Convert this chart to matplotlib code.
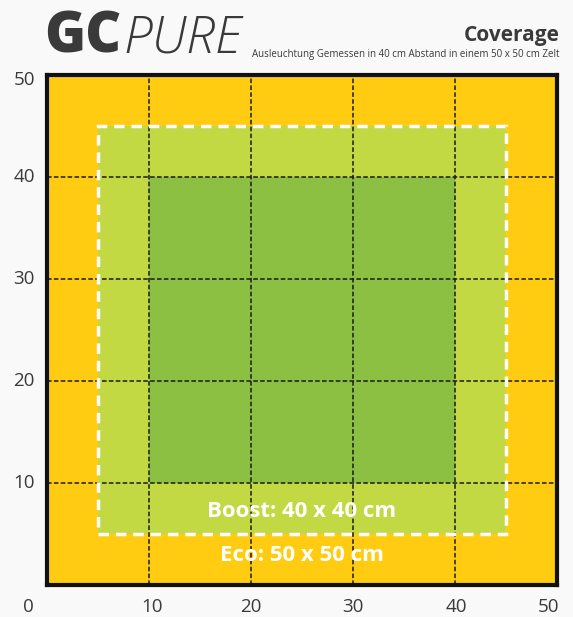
import matplotlib
matplotlib.use("Agg")
import matplotlib.pyplot as plt
from matplotlib.patches import Rectangle

# ---- data ----
zone_names = ["Eco", "Boost", "Core"]
zone_lo = [0, 5, 10]
zone_hi = [50, 45, 40]
zone_colors = ["#FFCC11", "#C2D944", "#8BC043"]
boost_box = (5, 45)
grid_ticks = [10, 20, 30, 40]
x_tick_labels = ["0", "10", "20", "30", "40", "50"]
y_tick_labels = ["10", "20", "30", "40", "50"]
label_boost = "Boost: 40 x 40 cm"
label_eco = "Eco: 50 x 50 cm"
title = "Coverage"
subtitle = "Ausleuchtung Gemessen in 40 cm Abstand in einem 50 x 50 cm Zelt"

plt.rcParams['font.family'] = ['Open Sans', 'DejaVu Sans']
BG = "#F9F9F9"
DARK = "#3A3A3A"

fig = plt.figure(figsize=(5.73, 6.17), dpi=100, facecolor=BG)
ax = fig.add_axes([47/573, 32/617, 510/573, 510/617])
ax.set_xlim(0, 50)
ax.set_ylim(0, 50)

for lo, hi, c in zip(zone_lo, zone_hi, zone_colors):
    ax.add_patch(Rectangle((lo, lo), hi - lo, hi - lo, facecolor=c, edgecolor='none', zorder=1))

for t in grid_ticks:
    ax.axvline(t, color='#1a1a1a', lw=1.1, ls=(0, (3, 1.5)), zorder=2)
    ax.axhline(t, color='#1a1a1a', lw=1.1, ls=(0, (3, 1.5)), zorder=2)

b0, b1 = boost_box
ax.add_patch(Rectangle((b0, b0), b1 - b0, b1 - b0, facecolor='none', edgecolor='white',
                       lw=2.5, ls=(0, (3, 2)), zorder=3))

ax.text(25, 7.2, label_boost, color='white', fontsize=16, fontweight='bold',
        ha='center', va='center', zorder=4)
ax.text(25, 2.9, label_eco, color='white', fontsize=16, fontweight='bold',
        ha='center', va='center', zorder=4)

ax.set_xticks([])
ax.set_yticks([])
for s in ax.spines.values():
    s.set_linewidth(3)
    s.set_color('#111111')
    s.set_zorder(5)

# tick labels
xpos = [-1.8, 10.3, 20, 30, 40.1, 49.2]
for xp, lab in zip(xpos, x_tick_labels):
    ax.text(xp, -2.2, lab, ha='center', va='center', fontsize=13.5, color=DARK, clip_on=False)
ypos = [10, 20, 30, 40, 49.5]
for yp, lab in zip(ypos, y_tick_labels):
    ax.text(-1.2, yp, lab, ha='right', va='center', fontsize=13.5, color=DARK, clip_on=False)

# header
fig.text(44/573, 1 - 38/617, "GC", fontsize=40, fontweight='black', color=DARK, ha='left', va='center')
fig.text(123/573, 1 - 39/617, "PURE", fontsize=37, fontweight='light', style='italic', color=DARK, ha='left', va='center')
fig.text(560/573, 1 - 35/617, title, fontsize=15, fontweight='bold', color=DARK, ha='right', va='center')
fig.text(560/573, 1 - 54/617, subtitle, fontsize=7.0, color=DARK, ha='right', va='center')

fig.savefig("out.png", dpi=100, facecolor=BG)
